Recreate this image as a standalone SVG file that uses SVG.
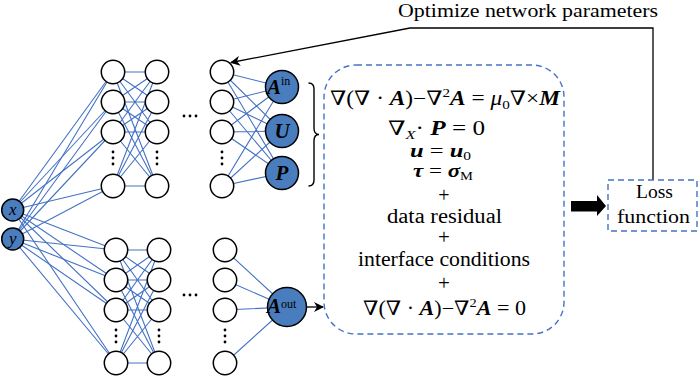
<svg xmlns="http://www.w3.org/2000/svg" width="700" height="377" viewBox="0 0 700 377">
<defs>
<style>
.w{stroke:#4472c4;stroke-width:1.1;fill:none}
.n{fill:#fff;stroke:#000;stroke-width:1.5}
.f{fill:#4a7dbd;stroke:#000;stroke-width:1.5}
.t{font-family:"Liberation Serif","DejaVu Serif",serif;fill:#000}
.bi{font-weight:bold;font-style:italic}
.it{font-style:italic}
.dash{fill:none;stroke:#4472c4;stroke-width:1.4;stroke-dasharray:6 4}
.d{fill:#000}
</style>
<marker id="ah" viewBox="0 0 10 10" refX="9" refY="5" markerWidth="10" markerHeight="10" markerUnits="userSpaceOnUse" orient="auto">
<path d="M0,0 L10,5 L0,10 L3,5 Z" fill="#000"/>
</marker>
</defs>

<g id="connectors">
<g class="w">
<path d="M12.7,210 L113,72 M12.7,210 L113,102 M12.7,210 L113,132 M12.7,210 L113,186"/>
<path d="M12.7,239 L113,72 M12.7,239 L113,102 M12.7,239 L113,132 M12.7,239 L113,186"/>
<path d="M12.7,210 L116,250 M12.7,210 L116,280 M12.7,210 L116,310 M12.7,210 L116,363"/>
<path d="M12.7,239 L116,250 M12.7,239 L116,280 M12.7,239 L116,310 M12.7,239 L116,363"/>
<path d="M113,72 L157,72 M113,72 L157,102 M113,72 L157,132 M113,72 L157,186
M113,102 L157,72 M113,102 L157,102 M113,102 L157,132 M113,102 L157,186
M113,132 L157,72 M113,132 L157,102 M113,132 L157,132 M113,132 L157,186
M113,186 L157,72 M113,186 L157,102 M113,186 L157,132 M113,186 L157,186"/>
<path d="M116,250 L159,250 M116,250 L159,280 M116,250 L159,310 M116,250 L159,363
M116,280 L159,250 M116,280 L159,280 M116,280 L159,310 M116,280 L159,363
M116,310 L159,250 M116,310 L159,280 M116,310 L159,310 M116,310 L159,363
M116,363 L159,250 M116,363 L159,280 M116,363 L159,310 M116,363 L159,363"/>
<path d="M222,72 L282,87 M222,72 L282,131 M222,72 L282,173
M222,102 L282,87 M222,102 L282,131 M222,102 L282,173
M222,132 L282,87 M222,132 L282,131 M222,132 L282,173
M222,186 L282,87 M222,186 L282,131 M222,186 L282,173"/>
<path d="M225,250 L287,307 M225,280 L287,307 M225,310 L287,307 M225,363 L287,307"/>
</g>
<path d="M306,307 L323,307" stroke="#000" stroke-width="1.3" fill="none" marker-end="url(#ah)"/>
<path d="M653,180 L653,28 L410,28 L231,62.5" stroke="#000" stroke-width="1.3" fill="none" marker-end="url(#ah)"/>
<polygon points="571,201 597,201 597,195 606,206 597,216 597,211.5 571,211.5" fill="#000"/>
<path d="M308.5,83 Q314,83 314,89 L314,128 Q314,134.5 319,134.5 Q314,134.5 314,141 L314,180 Q314,186 308.5,186" fill="none" stroke="#000" stroke-width="1.4"/>
</g>

<g id="inputs">
<g id="node-x"><circle class="f" cx="12.7" cy="210" r="11"/><text class="t it" x="12.7" y="215" font-size="17" text-anchor="middle">x</text></g>
<g id="node-y"><circle class="f" cx="12.7" cy="239" r="11"/><text class="t it" x="12.7" y="244" font-size="17" text-anchor="middle">y</text></g>
</g>

<g id="top-net">
<g id="top-col1">
<circle class="n" cx="113" cy="72" r="11.7"/><circle class="n" cx="113" cy="102" r="11.7"/><circle class="n" cx="113" cy="132" r="11.7"/><circle class="n" cx="113" cy="186" r="11.7"/>
<circle class="d" cx="113" cy="152" r="1.4"/><circle class="d" cx="113" cy="158" r="1.4"/><circle class="d" cx="113" cy="164" r="1.4"/>
</g>
<g id="top-col2">
<circle class="n" cx="157" cy="72" r="11.7"/><circle class="n" cx="157" cy="102" r="11.7"/><circle class="n" cx="157" cy="132" r="11.7"/><circle class="n" cx="157" cy="186" r="11.7"/>
<circle class="d" cx="157" cy="152" r="1.4"/><circle class="d" cx="157" cy="158" r="1.4"/><circle class="d" cx="157" cy="164" r="1.4"/>
</g>
<g id="top-ellipsis"><circle class="d" cx="184" cy="116" r="1.4"/><circle class="d" cx="190" cy="116" r="1.4"/><circle class="d" cx="196" cy="116" r="1.4"/></g>
<g id="top-col3">
<circle class="n" cx="222" cy="72" r="11.7"/><circle class="n" cx="222" cy="102" r="11.7"/><circle class="n" cx="222" cy="132" r="11.7"/><circle class="n" cx="222" cy="186" r="11.7"/>
<circle class="d" cx="222" cy="152" r="1.4"/><circle class="d" cx="222" cy="158" r="1.4"/><circle class="d" cx="222" cy="164" r="1.4"/>
</g>
<g id="node-Ain"><circle class="f" cx="282" cy="87" r="16.5"/><text class="t" y="94" font-size="21"><tspan class="bi" x="267">A</tspan><tspan font-size="12" dy="-9">in</tspan></text></g>
<g id="node-U"><circle class="f" cx="282" cy="131" r="16.5"/><text class="t bi" x="282" y="138" font-size="21" text-anchor="middle">U</text></g>
<g id="node-P"><circle class="f" cx="282" cy="173" r="16.5"/><text class="t bi" x="282" y="180" font-size="21" text-anchor="middle">P</text></g>
</g>

<g id="bottom-net">
<g id="bot-col1">
<circle class="n" cx="116" cy="250" r="11.7"/><circle class="n" cx="116" cy="280" r="11.7"/><circle class="n" cx="116" cy="310" r="11.7"/><circle class="n" cx="116" cy="363" r="11.7"/>
<circle class="d" cx="116" cy="330" r="1.4"/><circle class="d" cx="116" cy="336" r="1.4"/><circle class="d" cx="116" cy="342" r="1.4"/>
</g>
<g id="bot-col2">
<circle class="n" cx="159" cy="250" r="11.7"/><circle class="n" cx="159" cy="280" r="11.7"/><circle class="n" cx="159" cy="310" r="11.7"/><circle class="n" cx="159" cy="363" r="11.7"/>
<circle class="d" cx="159" cy="330" r="1.4"/><circle class="d" cx="159" cy="336" r="1.4"/><circle class="d" cx="159" cy="342" r="1.4"/>
</g>
<g id="bot-ellipsis"><circle class="d" cx="184" cy="295" r="1.4"/><circle class="d" cx="190" cy="295" r="1.4"/><circle class="d" cx="196" cy="295" r="1.4"/></g>
<g id="bot-col3">
<circle class="n" cx="225" cy="250" r="11.7"/><circle class="n" cx="225" cy="280" r="11.7"/><circle class="n" cx="225" cy="310" r="11.7"/><circle class="n" cx="225" cy="363" r="11.7"/>
<circle class="d" cx="225" cy="330" r="1.4"/><circle class="d" cx="225" cy="336" r="1.4"/><circle class="d" cx="225" cy="342" r="1.4"/>
</g>
<g id="node-Aout"><circle class="f" cx="287" cy="307" r="19.5"/><text class="t" y="313" font-size="21"><tspan class="bi" x="267">A</tspan><tspan font-size="12" dy="-5">out</tspan></text></g>
</g>

<g id="equations">
<rect class="dash" x="324" y="65" width="240" height="269" rx="32" ry="32"/>
<text class="t" x="330" y="105" font-size="20" textLength="230" lengthAdjust="spacingAndGlyphs">∇(∇ · <tspan class="bi">A</tspan>)−∇<tspan font-size="13" dy="-8">2</tspan><tspan class="bi" dy="8">A</tspan> = <tspan class="it">μ</tspan><tspan font-size="13" dy="4">0</tspan><tspan dy="-4">∇×</tspan><tspan class="bi">M</tspan></text>
<text class="t" x="388" y="135" font-size="20" textLength="97" lengthAdjust="spacingAndGlyphs">∇<tspan class="it" font-size="13" dy="4">X</tspan><tspan dy="-4">· </tspan><tspan class="bi">P</tspan> = 0</text>
<text class="t" x="410" y="157" font-size="19" textLength="61" lengthAdjust="spacingAndGlyphs"><tspan class="bi">u</tspan> = <tspan class="bi">u</tspan><tspan font-size="12" dy="3">0</tspan></text>
<text class="t" x="413" y="177" font-size="19" textLength="60" lengthAdjust="spacingAndGlyphs"><tspan class="bi">τ</tspan> = <tspan class="bi">σ</tspan><tspan font-size="12" dy="3">M</tspan></text>
<text class="t" x="444" y="202" font-size="20" text-anchor="middle">+</text>
<text class="t" x="387" y="223" font-size="20" textLength="115" lengthAdjust="spacingAndGlyphs">data residual</text>
<text class="t" x="444" y="244" font-size="21" text-anchor="middle">+</text>
<text class="t" x="358" y="266" font-size="20" textLength="172" lengthAdjust="spacingAndGlyphs">interface conditions</text>
<text class="t" x="444" y="290" font-size="21" text-anchor="middle">+</text>
<text class="t" x="363" y="315" font-size="20" textLength="163" lengthAdjust="spacingAndGlyphs">∇(∇ · <tspan class="bi">A</tspan>)−∇<tspan font-size="13" dy="-8">2</tspan><tspan class="bi" dy="8">A</tspan> = 0</text>
</g>

<g id="loss">
<rect class="dash" x="608" y="180" width="89" height="51"/>
<text class="t" x="636" y="198" font-size="18" textLength="37" lengthAdjust="spacingAndGlyphs">Loss</text>
<text class="t" x="617" y="223" font-size="18" textLength="73" lengthAdjust="spacingAndGlyphs">function</text>
</g>

<g id="feedback-label">
<text class="t" x="398" y="17" font-size="19" textLength="260" lengthAdjust="spacingAndGlyphs">Optimize network parameters</text>
</g>
</svg>
